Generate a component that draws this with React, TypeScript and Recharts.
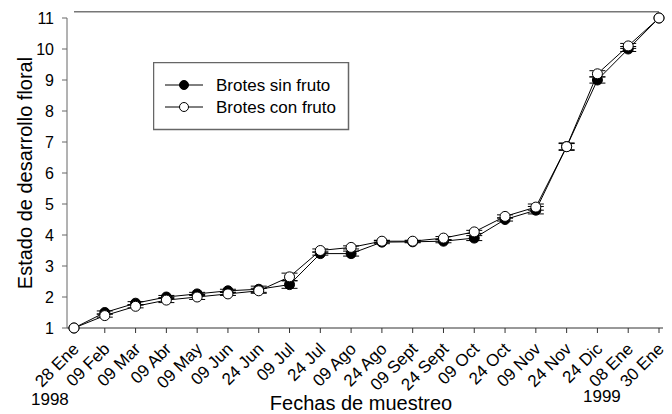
import React from 'react';
import { LineChart, Line, XAxis, YAxis, ErrorBar, Legend, Label, ReferenceLine } from 'recharts';

const fechas = ['28 Ene', '09 Feb', '09 Mar', '09 Abr', '09 May', '09 Jun', '24 Jun', '09 Jul', '24 Jul', '09 Ago', '24 Ago', '09 Sept', '24 Sept', '09 Oct', '24 Oct', '09 Nov', '24 Nov', '24 Dic', '08 Ene', '30 Ene'];
const sinFruto = [1, 1.5, 1.8, 2.0, 2.1, 2.2, 2.25, 2.4, 3.4, 3.4, 3.77, 3.78, 3.8, 3.9, 4.5, 4.8, 6.85, 9.0, 10.0, 11];
const conFruto = [1, 1.4, 1.7, 1.9, 2.0, 2.1, 2.2, 2.65, 3.5, 3.6, 3.8, 3.8, 3.9, 4.1, 4.6, 4.9, 6.85, 9.2, 10.1, 11];
const errSin = [0, 0.05, 0.05, 0.05, 0.05, 0.05, 0.1, 0.12, 0.05, 0.08, 0.05, 0.03, 0.05, 0.08, 0.05, 0.12, 0.1, 0.1, 0.08, 0];
const errCon = [0, 0.05, 0.05, 0.08, 0.08, 0.05, 0.08, 0.12, 0.05, 0.05, 0.03, 0.03, 0.05, 0.05, 0.05, 0.1, 0.12, 0.1, 0.08, 0];
const yTicks = [1, 2, 3, 4, 5, 6, 7, 8, 9, 10, 11];
const serieNames = ['Brotes sin fruto', 'Brotes con fruto'];
const frameTop = 11.2;

const data = fechas.map((f, i) => ({
  fecha: f,
  sin: sinFruto[i],
  con: conFruto[i],
  eSin: errSin[i],
  eCon: errCon[i],
}));

const FONT = '"Liberation Sans", Arial, sans-serif';

const XTick = (props: any) => {
  const { x, y, payload } = props;
  const tx = x + 6;
  const ty = y + 15;
  return (
    <text x={tx} y={ty} transform={`rotate(-45 ${tx} ${ty})`} textAnchor="end" fontSize={17} fontFamily={FONT} fill="#000">
      {payload.value}
    </text>
  );
};

const LegendBox = () => (
  <svg width={197} height={69} style={{ display: 'block' }}>
    <rect x={0.5} y={0.5} width={195} height={67} fill="#fff" stroke="#666" strokeWidth={1.5} />
    <line x1={12} y1={23} x2={50} y2={23} stroke="#000" strokeWidth={1} />
    <circle cx={31} cy={23} r={4.5} fill="#000" stroke="#000" />
    <text x={63} y={29} fontSize={17} fontFamily={FONT} fill="#000">{serieNames[0]}</text>
    <line x1={12} y1={45} x2={50} y2={45} stroke="#000" strokeWidth={1} />
    <circle cx={31} cy={45} r={4.5} fill="#fff" stroke="#000" />
    <text x={63} y={51} fontSize={17} fontFamily={FONT} fill="#000">{serieNames[1]}</text>
  </svg>
);

export default function App() {
  return (
    <div style={{ position: 'absolute', left: 0, top: 0, background: '#fff' }}>
      <LineChart width={672} height={414} data={data} margin={{ top: 18, right: 9, left: 0, bottom: 0 }}>
        <XAxis
          dataKey="fecha"
          height={86}
          padding={{ left: 7, right: 4 }}
          tick={<XTick />}
          tickSize={5}
          interval={0}
          stroke="#333"
          tickLine={{ stroke: '#333' }}
        >
          <Label value="Fechas de muestreo" position="insideBottom" offset={4} dx={-4} fontSize={20} fontFamily={FONT} fill="#000" />
          <Label content={() => <text x={31} y={405} fontSize={17} fontFamily={FONT} fill="#000">1998</text>} />
          <Label content={() => <text x={583} y={402} fontSize={17} fontFamily={FONT} fill="#000">1999</text>} />
        </XAxis>
        <YAxis
          domain={[1, 11]}
          ticks={yTicks}
          width={67}
          tickSize={5}
          tickMargin={8}
          interval={0}
          tick={{ fontSize: 16, fontFamily: FONT, fill: '#000' }}
          stroke="#666"
        >
          <Label value="Estado de desarrollo floral" angle={-90} position="center" dx={-8.5} fontSize={20} fontFamily={FONT} fill="#000" />
        </YAxis>
        <YAxis yAxisId="right" orientation="right" width={0} tick={false} tickLine={false} stroke="#000" domain={[0, 1]} />
        <ReferenceLine
          segment={[{ x: fechas[0], y: frameTop }, { x: fechas[fechas.length - 1], y: frameTop }]}
          ifOverflow="visible"
          stroke="#777"
          strokeWidth={1.5}
        />
        <Legend
          layout="horizontal"
          verticalAlign="middle"
          align="center"
          content={() => <LegendBox />}
          wrapperStyle={{ position: 'absolute', left: 153, top: 62, width: 197, height: 69 }}
        />
        <Line
          type="linear"
          dataKey="sin"
          name={serieNames[0]}
          stroke="#000"
          strokeWidth={1}
          dot={{ r: 5, fill: '#000', stroke: '#000', strokeWidth: 1 }}
          isAnimationActive={false}
        >
          <ErrorBar dataKey="eSin" width={8} stroke="#000" strokeWidth={1} direction="y" />
        </Line>
        <Line
          type="linear"
          dataKey="con"
          name={serieNames[1]}
          stroke="#000"
          strokeWidth={1}
          dot={{ r: 5, fill: '#fff', stroke: '#000', strokeWidth: 1 }}
          isAnimationActive={false}
        >
          <ErrorBar dataKey="eCon" width={8} stroke="#000" strokeWidth={1} direction="y" />
        </Line>
      </LineChart>
    </div>
  );
}
